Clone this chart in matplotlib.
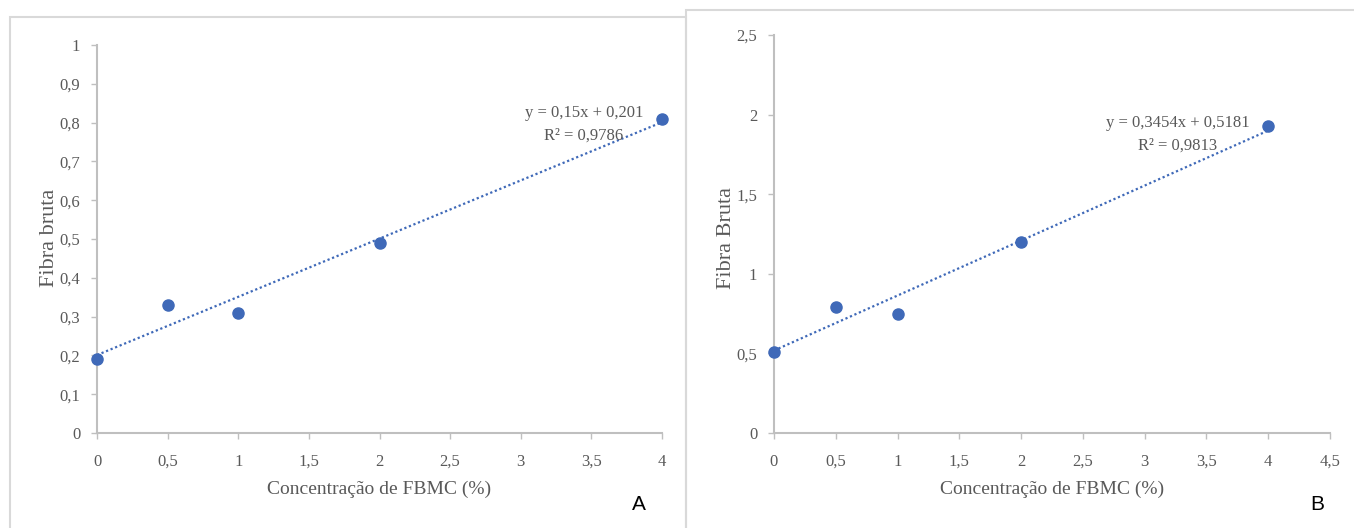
import numpy as np
import matplotlib.pyplot as plt
from matplotlib.patches import Rectangle

# Dados: fibra bruta vs concentração de FBMC
conc = [0, 0.5, 1, 2, 4]
fibra_a = [0.19, 0.33, 0.31, 0.49, 0.81]
fibra_b = [0.51, 0.79, 0.75, 1.20, 1.93]

# Linhas de tendência (coeficientes do Excel)
coef_a = (0.15, 0.201)
coef_b = (0.3454, 0.5181)
eq_a = ["y = 0,15x + 0,201", "R² = 0,9786"]
eq_b = ["y = 0,3454x + 0,5181", "R² = 0,9813"]

xticks_a = [0, 0.5, 1, 1.5, 2, 2.5, 3, 3.5, 4]
yticks_a = [0, 0.1, 0.2, 0.3, 0.4, 0.5, 0.6, 0.7, 0.8, 0.9, 1]
xticks_b = [0, 0.5, 1, 1.5, 2, 2.5, 3, 3.5, 4, 4.5]
yticks_b = [0, 0.5, 1, 1.5, 2, 2.5]

W, H = 1354, 528
azul = '#3f69b8'
cinza_txt = '#595959'
cinza_eixo = '#bfbfbf'

plt.rcParams['font.family'] = ['Liberation Serif', 'DejaVu Serif']

fig = plt.figure(figsize=(W / 100, H / 100), dpi=100)
fig.patch.set_facecolor('white')

# molduras dos dois gráficos (cortadas na base)
for (x0, y0, x1, y1) in [(10, 17, 686, 540), (686, 10, 1360, 540)]:
    fig.patches.append(Rectangle((x0 / W, 1 - y1 / H), (x1 - x0) / W, (y1 - y0) / H,
                                 transform=fig.transFigure, fill=False,
                                 edgecolor='#d9d9d9', lw=1.5))


def fmt(v):
    return ('%g' % v).replace('.', ',')


def painel(rect, x, y, coef, eq, xt, yt, xlim, ylim, ylabel, ylab_x, eq_pos, letra, letra_pos):
    l, t, r, b = rect
    ax = fig.add_axes([l / W, 1 - b / H, (r - l) / W, (b - t) / H])
    ax.set_xlim(*xlim)
    ax.set_ylim(*ylim)
    xf = np.array([0, 4])
    ax.plot(xf, coef[0] * xf + coef[1], linestyle=(0, (1, 1.2)), color=azul, lw=1.6,
            zorder=2)
    ax.plot(x, y, 'o', color=azul, markersize=8, zorder=3, clip_on=False)
    ax.set_xticks(xt)
    ax.set_xticklabels([fmt(v) for v in xt])
    ax.set_yticks(yt)
    ax.set_yticklabels([fmt(v) for v in yt])
    for s in ['top', 'right']:
        ax.spines[s].set_visible(False)
    for s in ['left', 'bottom']:
        ax.spines[s].set_color(cinza_eixo)
        ax.spines[s].set_linewidth(1.5)
    ax.tick_params(colors=cinza_eixo, labelcolor=cinza_txt, labelsize=12, length=4,
                   width=1)
    ax.tick_params(axis='y', pad=8)
    ax.tick_params(axis='x', pad=11)
    ax.set_xlabel('Concentração de FBMC (%)', fontsize=14, color=cinza_txt, labelpad=8)
    ax.set_ylabel(ylabel, fontsize=16, color=cinza_txt)
    ax.yaxis.set_label_coords(ylab_x / W, 1 - 238 / H, transform=fig.transFigure)
    ex, ey = eq_pos
    fig.text(ex / W, 1 - ey / H, eq[0], ha='center', va='center', fontsize=12,
             color=cinza_txt)
    fig.text(ex / W, 1 - (ey + 23) / H, eq[1], ha='center', va='center', fontsize=12,
             color=cinza_txt)
    fig.text(letra_pos[0] / W, 1 - letra_pos[1] / H, letra, ha='center', va='center',
             fontsize=15, family='Liberation Sans', color='black')
    return ax


painel((97, 45, 662, 433), conc, fibra_a, coef_a, eq_a, xticks_a, yticks_a,
       (0, 4), (0, 1), 'Fibra bruta', 59, (584, 113), 'A', (639, 505))
painel((774, 35, 1330, 433), conc, fibra_b, coef_b, eq_b, xticks_b, yticks_b,
       (0, 4.5), (0, 2.5), 'Fibra Bruta', 736, (1178, 123), 'B', (1317, 505))

fig.savefig('out.png', dpi=100, facecolor='white')
